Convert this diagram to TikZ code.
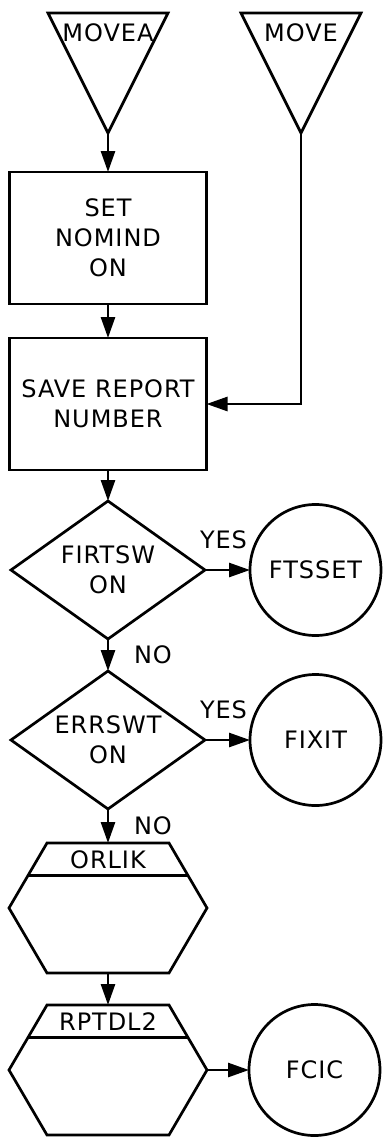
\documentclass[tikz,border=0pt]{standalone}
\usepackage{fontspec}
\setmainfont{DejaVu Sans}[LetterSpace = 4]
\usetikzlibrary{
    % shapes.misc,
    arrows.meta,
    calc,
    positioning,
    shapes.geometric
}
\tikzset{
    every picture/.style = {
        > = {Triangle[length = 21pt, width = 14pt]},
        line width = 2.7pt
    },
    every node/.style = {
        inner sep = 0pt,
        outer sep = 0pt,
        align = center,
        font = \fontsize{24}{30}\selectfont
    },
    block/.style = {
        draw,
        rectangle,
        minimum width = 197pt,
        minimum height = 132pt
    },
    decision/.style = {
        draw,
        diamond,
        aspect = 1.4,
        minimum width = 194pt,
        minimum height = 138pt
    },
    connector/.style = {
        draw,
        circle,
        minimum size = 131pt
    },
    entry/.style = {
        minimum width = 120pt,
        minimum height = 120pt
    },
    module/.style = {
        minimum width = 198pt,
        minimum height = 130pt
    },
    tag/.style = {
        inner sep = 4pt
    }
}
% outline of an entry point (triangle, point down)
\newcommand{\entryframe}[2]{%
    \draw (#1.north west) -- (#1.north east) -- (#1.south) -- cycle;
    \node (#1-name) at ($(#1.north)+(0,-20pt)$) {#2};
}
% outline of a called module (hexagon with a header)
\newcommand{\moduleframe}[2]{%
    \draw ($(#1.north west)+(38pt,0)$) -- ($(#1.north east)+(-38pt,0)$)
        -- (#1.east) -- ($(#1.south east)+(-38pt,0)$)
        -- ($(#1.south west)+(38pt,0)$) -- (#1.west) -- cycle;
    \draw ($($(#1.north west)+(38pt,0)$)!0.5!(#1.west)$)
        -- ($($(#1.north east)+(-38pt,0)$)!0.5!(#1.east)$);
    \node (#1-name) at ($(#1.north)+(0,-17pt)$) {#2};
}

\begin{document}
\begin{tikzpicture}[
                        % font = \footnotesize
                    ]
                        \useasboundingbox (0,0) rectangle (384pt,-1138pt);

                        \node[entry] (movea) at (108pt,-73pt) {};
                        \node[entry, right = 73pt of movea] (move) {};
                        \node[block, below = 39pt of movea] (setnom) {SET\\NOMIND\\ON};
                        \node[block, below = 34pt of setnom] (save) {SAVE REPORT\\NUMBER};
                        \node[decision, below = 31pt of save] (firtsw) {FIRTSW\\ON};
                        \node[connector, right = 45pt of firtsw] (ftsset) {FTSSET};
                        \node[decision, below = 32pt of firtsw] (errswt) {ERRSWT\\ON};
                        \node[connector, right = 45pt of errswt] (fixit) {FIXIT};
                        \node[module, below = 34pt of errswt] (orlik) {};
                        \node[module, below = 32pt of orlik] (rptdl) {};
                        \node[connector, right = 42pt of rptdl] (fcic) {FCIC};

                        \entryframe{movea}{MOVEA}
                        \entryframe{move}{MOVE}
                        \moduleframe{orlik}{ORLIK}
                        \moduleframe{rptdl}{RPTDL2}

                        \draw[->] (movea.south) -- (setnom);
                        \draw[->] (move.south) |- (save);
                        \draw[->] (setnom) -- (save);
                        \draw[->] (save) -- (firtsw);
                        \draw[->] (firtsw) -- node[tag, above = 17pt, xshift = -4pt] {YES} (ftsset);
                        \draw[->] (firtsw) -- node[tag, right = 22pt] {NO} (errswt);
                        \draw[->] (errswt) -- node[tag, above = 17pt, xshift = -4pt] {YES} (fixit);
                        \draw[->] (errswt) -- node[tag, right = 22pt] {NO} (orlik);
                        \draw[->] (orlik) -- (rptdl);
                        \draw[->] (rptdl) -- (fcic);
                    \end{tikzpicture}
\end{document}
